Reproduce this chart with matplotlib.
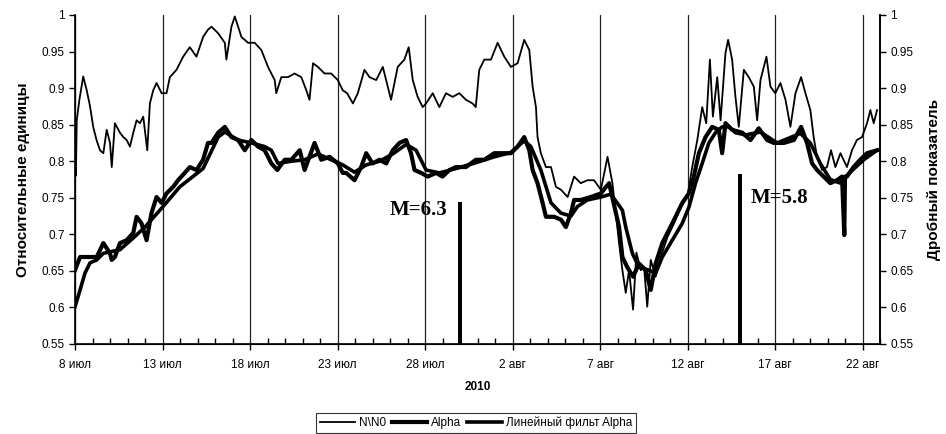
import matplotlib
matplotlib.use('Agg')
import matplotlib.pyplot as plt
import numpy as np

plt.rcParams['font.family'] = ['Liberation Sans', 'DejaVu Sans']

# days counted from 8 July 2010
nn0_day = [0.0, 0.05, 0.1, 0.25, 0.47, 0.67, 0.86, 1.04, 1.23, 1.43, 1.62, 1.81, 2.0, 2.1, 2.28,
           2.57, 2.76, 2.95, 3.14, 3.33, 3.52, 3.71, 3.9, 4.13, 4.28, 4.47, 4.66, 4.95, 5.23, 5.42,
           5.8, 6.18, 6.56, 6.94, 7.32, 7.6, 7.8, 8.18, 8.56, 8.65, 8.94, 9.13, 9.51, 9.89, 10.27,
           10.65, 11.03, 11.41, 11.5, 11.79, 12.17, 12.55, 12.93, 13.22, 13.4, 13.6, 13.88, 14.26,
           14.64, 15.02, 15.3, 15.55, 15.88, 16.16, 16.54, 16.83, 17.21, 17.59, 17.87, 18.06, 18.44,
           18.82, 19.07, 19.3, 19.58, 19.87, 20.06, 20.44, 20.82, 21.2, 21.58, 21.96, 22.34, 22.72,
           22.9, 23.1, 23.39, 23.77, 24.15, 24.53, 24.91, 25.29, 25.67, 25.96, 26.15, 26.34, 26.43,
           26.62, 26.91, 27.2, 27.48, 27.77, 28.15, 28.52, 28.9, 29.28, 29.66, 30.05, 30.43, 30.71,
           31.09, 31.28, 31.47, 31.66, 31.89, 32.08, 32.33, 32.52, 32.7, 32.9, 33.18, 33.47, 33.85,
           34.23, 34.61, 34.99, 35.27, 35.56, 35.84, 36.07, 36.28, 36.45, 36.7, 36.89, 37.17, 37.32,
           37.55, 37.74, 37.93, 38.22, 38.5, 38.79, 38.98, 39.17, 39.51, 39.74, 40.02, 40.31, 40.6,
           40.88, 41.17, 41.49, 41.74, 42.02, 42.21, 42.4, 42.69, 42.97, 43.2, 43.45, 43.74, 44.11,
           44.4, 44.68, 44.97, 45.26, 45.45, 45.64, 45.83]
nn0_val = [0.80, 0.78, 0.856, 0.884, 0.916, 0.897, 0.875, 0.847, 0.829, 0.815, 0.811, 0.843, 0.825, 0.792, 0.852,
           0.839, 0.833, 0.829, 0.820, 0.839, 0.856, 0.852, 0.861, 0.815, 0.879, 0.897, 0.907, 0.893, 0.893, 0.915,
           0.925, 0.943, 0.956, 0.943, 0.970, 0.98, 0.984, 0.975, 0.962, 0.939, 0.984, 0.998, 0.970, 0.962, 0.962,
           0.952, 0.929, 0.911, 0.893, 0.915, 0.915, 0.92, 0.915, 0.897, 0.884, 0.934, 0.929, 0.92,
           0.92, 0.911, 0.897, 0.893, 0.879, 0.893, 0.925, 0.915, 0.911, 0.929, 0.902, 0.884, 0.929,
           0.939, 0.956, 0.911, 0.888, 0.874, 0.879, 0.893, 0.874, 0.893, 0.888, 0.893, 0.884, 0.879,
           0.874, 0.925, 0.939, 0.939, 0.962, 0.943, 0.929, 0.934, 0.966, 0.952, 0.902, 0.874, 0.833,
           0.811, 0.792, 0.792, 0.765, 0.761, 0.751, 0.779, 0.770, 0.774, 0.774, 0.761, 0.806, 0.770,
           0.688, 0.651, 0.620, 0.651, 0.597, 0.675, 0.651, 0.655, 0.601, 0.665, 0.642, 0.669, 0.696,
           0.715, 0.737, 0.751, 0.792, 0.829, 0.874, 0.852, 0.939, 0.861, 0.915, 0.856, 0.948, 0.966,
           0.939, 0.888, 0.847, 0.925, 0.915, 0.902, 0.856, 0.911, 0.943, 0.902, 0.893, 0.907, 0.884,
           0.847, 0.893, 0.915, 0.893, 0.87, 0.833, 0.806, 0.788, 0.792, 0.815, 0.792, 0.811, 0.792,
           0.815, 0.829, 0.833, 0.852, 0.87, 0.852, 0.87]

alpha_day = [0.0, 0.29, 0.57, 0.86, 1.24, 1.62, 2.0, 2.1, 2.28, 2.57, 2.95, 3.33, 3.52, 3.8, 4.09,
             4.37, 4.66, 4.95, 5.23, 5.61, 5.89, 6.27, 6.56, 6.94, 7.32, 7.6, 7.8, 8.18, 8.56, 8.94,
             9.32, 9.7, 10.08, 10.46, 10.84, 11.22, 11.56, 11.98, 12.36, 12.84, 13.12, 13.69, 14.07,
             14.55, 15.02, 15.3, 15.5, 15.97, 16.35, 16.64, 17.0, 17.4, 17.78, 18.16, 18.54, 18.92,
             19.2, 19.4, 19.78, 20.16, 20.63, 21.0, 21.4, 21.77, 22.34, 22.91, 23.39, 23.96, 24.53,
             24.91, 25.29, 25.67, 25.96, 26.15, 26.43, 26.72, 26.91, 27.38, 27.77, 28.05, 28.34, 28.52,
             28.9, 29.47, 30.05, 30.52, 31.09, 31.28, 31.56, 31.89, 32.23, 32.61, 32.9, 33.18, 33.56,
             33.94, 34.32, 34.7, 35.08, 35.37, 35.65, 36.03, 36.41, 36.79, 36.98, 37.17, 37.55, 38.13,
             38.6, 39.07, 39.55, 39.93, 40.5, 41.08, 41.49, 41.83, 42.12, 42.4, 42.78, 43.16, 43.54,
             43.83, 43.96, 44.0, 44.11, 44.49, 44.87, 45.26, 45.83]
alpha_val = [0.651, 0.669, 0.669, 0.669, 0.669, 0.688, 0.674, 0.665, 0.669, 0.688, 0.692, 0.702, 0.724, 0.715, 0.692,
             0.729, 0.751, 0.743, 0.756, 0.765, 0.774, 0.784, 0.792, 0.788, 0.802, 0.825, 0.825, 0.839, 0.847, 0.833,
             0.829, 0.815, 0.829, 0.820, 0.815, 0.797, 0.788, 0.802, 0.802, 0.815, 0.788, 0.825, 0.802,
             0.806, 0.797, 0.784, 0.784, 0.774, 0.792, 0.811, 0.797, 0.802, 0.797, 0.815, 0.825, 0.829,
             0.811, 0.788, 0.784, 0.779, 0.784, 0.779, 0.788, 0.792, 0.792, 0.802, 0.802, 0.811, 0.811,
             0.811, 0.820, 0.833, 0.815, 0.788, 0.770, 0.743, 0.724, 0.724, 0.72, 0.71, 0.729, 0.747,
             0.747, 0.751, 0.756, 0.77, 0.71, 0.669, 0.655, 0.642, 0.66, 0.651, 0.624, 0.66, 0.688,
             0.706, 0.724, 0.743, 0.756, 0.78, 0.811, 0.833, 0.847, 0.843, 0.811, 0.852, 0.843, 0.839,
             0.829, 0.845, 0.829, 0.825, 0.825, 0.829, 0.847, 0.825, 0.797, 0.788, 0.779, 0.770, 0.774,
             0.779, 0.699, 0.779, 0.779, 0.792, 0.802, 0.811, 0.815]

filt_day = [0.0, 0.29, 0.57, 0.86, 1.24, 1.62, 2.57, 3.33, 4.0, 4.85, 5.99, 7.32, 8.18, 8.56, 9.32,
            10.08, 10.84, 11.22, 11.6, 12.36, 13.12, 13.88, 14.64, 15.3, 15.97, 16.64, 17.4, 18.16,
            18.92, 19.49, 20.06, 20.82, 21.77, 22.91, 23.96, 24.91, 25.67, 26.05, 26.62, 27.2, 27.77,
            28.34, 28.71, 29.28, 30.05, 30.62, 31.28, 31.47, 31.85, 32.23, 32.8, 33.18, 33.56, 34.13,
            34.7, 35.08, 35.46, 35.84, 36.22, 36.6, 36.98, 37.36, 37.74, 38.32, 39.17, 40.12, 41.45,
            42.02, 42.59, 43.16, 43.74, 44.3, 45.07, 45.83]
filt_val = [0.601, 0.624, 0.647, 0.661, 0.665, 0.674, 0.679, 0.695, 0.71, 0.733, 0.765, 0.79, 0.833, 0.84, 0.829,
            0.825, 0.820, 0.815, 0.797, 0.80, 0.802, 0.81, 0.802, 0.795, 0.785, 0.795, 0.80, 0.81,
            0.823, 0.815, 0.788, 0.784, 0.79, 0.798, 0.806, 0.812, 0.828, 0.82, 0.788, 0.743, 0.729,
            0.725, 0.738, 0.747, 0.751, 0.755, 0.733, 0.71, 0.674, 0.655, 0.651, 0.647, 0.669, 0.692,
            0.715, 0.737, 0.770, 0.797, 0.825, 0.839, 0.847, 0.847, 0.839, 0.836, 0.84, 0.825, 0.838,
            0.825, 0.797, 0.775, 0.77, 0.785, 0.802, 0.815]

# earthquake markers
quake_day = [22.0, 38.0]
quake_top = [0.744, 0.782]
quake_labels = ['M=6.3', 'M=5.8']

x_ticks = [0, 5, 10, 15, 20, 25, 30, 35, 40, 45]
x_tick_labels = ['8 июл', '13 июл', '18 июл', '23 июл', '28 июл',
                 '2 авг', '7 авг', '12 авг', '17 авг', '22 авг']
y_ticks = [0.55, 0.6, 0.65, 0.7, 0.75, 0.8, 0.85, 0.9, 0.95, 1.0]
y_tick_labels = ['0.55', '0.6', '0.65', '0.7', '0.75', '0.8', '0.85', '0.9', '0.95', '1']

fig = plt.figure(figsize=(9.46, 4.34), dpi=100)
ax = fig.add_axes([75 / 946, 1 - 344 / 434, 805 / 946, 329 / 434])

for xt in x_ticks:
    ax.axvline(xt, color='#222222', lw=0.9, zorder=1)

ax.plot(nn0_day, nn0_val, color='black', lw=1.3, label='N\\N0', zorder=3)
ax.plot(alpha_day, alpha_val, color='black', lw=3.0, label='Alpha', zorder=3)
ax.plot(filt_day, filt_val, color='black', lw=2.6, label='Линейный фильт Alpha', zorder=3)

ax.bar(quake_day, np.array(quake_top) - 0.55, bottom=0.55, width=0.22, color='black', zorder=2)
ax.text(quake_day[0] - 0.7, 0.726, quake_labels[0], family='Liberation Serif', weight='bold',
        fontsize=15, ha='right', va='baseline')
ax.text(quake_day[1] + 0.6, 0.743, quake_labels[1], family='Liberation Serif', weight='bold',
        fontsize=15, ha='left', va='baseline')

ax.set_xlim(0, 46)
ax.set_ylim(0.55, 1.0)
ax.set_xticks(x_ticks)
ax.set_xticklabels(x_tick_labels, fontsize=8.5)
ax.set_xticks(np.arange(0, 47, 1), minor=True)
ax.tick_params(axis='x', which='major', direction='out', length=4, width=1, pad=7)
ax.tick_params(axis='x', which='minor', direction='in', length=4, width=1)
ax.set_yticks(y_ticks)
ax.set_yticklabels(y_tick_labels, fontsize=8.5)
ax.tick_params(axis='y', direction='out', length=4, width=1)
ax.spines['top'].set_visible(False)
for s in ['left', 'right', 'bottom']:
    ax.spines[s].set_linewidth(1.2)

ax2 = ax.twinx()
ax2.set_ylim(0.55, 1.0)
ax2.set_yticks(y_ticks)
ax2.set_yticklabels(y_tick_labels, fontsize=8.5)
ax2.tick_params(axis='y', direction='out', length=4, width=1)
ax2.spines['top'].set_visible(False)
ax2.spines['right'].set_linewidth(1.2)

ax.set_ylabel('Относительные единицы', fontsize=11, weight='bold', labelpad=8)
ax2.set_ylabel('Дробный показатель', fontsize=11, weight='bold', rotation=90, labelpad=10)
ax.set_xlabel('2010', fontsize=8.5, weight='bold', labelpad=7)

leg = ax.legend(loc='center', bbox_to_anchor=(476 / 946, 1 - 423 / 434), bbox_transform=fig.transFigure,
                ncol=3, fontsize=8.5, frameon=True, fancybox=False, edgecolor='black',
                handlelength=3.0, handletextpad=0.3, columnspacing=0.5, borderpad=0.35, borderaxespad=0)
leg.get_frame().set_linewidth(0.8)

fig.savefig('out.png', dpi=100)
